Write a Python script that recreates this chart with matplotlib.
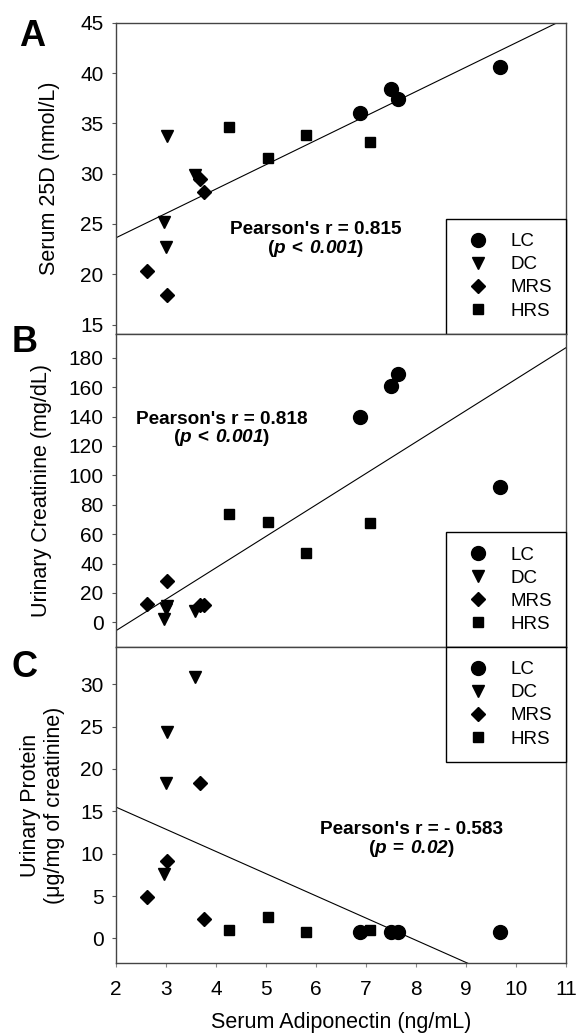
import numpy as np
import matplotlib.pyplot as plt

plt.rcParams['font.family'] = ['Liberation Sans', 'DejaVu Sans']
plt.rcParams['mathtext.fontset'] = 'custom'
plt.rcParams['mathtext.rm'] = 'Liberation Sans'
plt.rcParams['mathtext.bf'] = 'Liberation Sans:bold'
plt.rcParams['mathtext.it'] = 'Liberation Sans:italic'
plt.rcParams['mathtext.bfit'] = 'Liberation Sans:bold:italic'

# adiponectina serica (ng/mL) por grupo
grupos = ['LC', 'DC', 'MRS', 'HRS']
marcadores = {'LC': 'o', 'DC': 'v', 'MRS': 'D', 'HRS': 's'}
tamanos = {'LC': 10, 'DC': 8.5, 'MRS': 7, 'HRS': 7.5}
x_lc = [6.88, 7.50, 7.64, 9.69]
x_dc = [3.01, 2.95, 3.00, 3.58]
x_mrs = [2.62, 3.01, 3.68, 3.76]
x_hrs = [4.26, 5.05, 5.80, 7.08]

# panel A: 25D serica (nmol/L)
a_lc = [36.0, 38.4, 37.4, 40.6]
a_dc = [33.7, 25.2, 22.7, 29.9]
a_mrs = [20.3, 17.9, 29.5, 28.2]
a_hrs = [34.6, 31.6, 33.8, 33.1]

# panel B: creatinina urinaria (mg/dL)
b_lc = [139.7, 160.7, 169.1, 92.1]
b_dc = [11.0, 2.2, 9.0, 7.9]
b_mrs = [12.4, 28.2, 11.7, 11.7]
b_hrs = [74.0, 68.3, 47.0, 67.4]

# panel C: proteina urinaria (ug/mg de creatinina)
c_lc = [0.7, 0.7, 0.7, 0.7]
c_dc = [24.4, 7.6, 18.4, 30.8]
c_mrs = [4.9, 9.1, 18.4, 2.3]
c_hrs = [1.0, 2.5, 0.7, 1.0]

# rectas de regresion (pendiente, intercepto)
recta_a = (2.423, 18.78)
recta_b = (21.4, -48.5)
recta_c = (-2.62, 20.74)

xs = {'LC': x_lc, 'DC': x_dc, 'MRS': x_mrs, 'HRS': x_hrs}
paneles = [
    {'letra': 'A', 'pos_letra': (0.055, 0.965),
     'ys': {'LC': a_lc, 'DC': a_dc, 'MRS': a_mrs, 'HRS': a_hrs},
     'recta': recta_a, 'ylim': (14.1, 45), 'yticks': np.arange(15, 46, 5),
     'ylabel': 'Serum 25D (nmol/L)', 'lx': -0.124,
     'texto': ("Pearson's r = 0.815", r'$\mathbf{(}\mathbfit{p}\:\mathbf{<}\:\mathbfit{0.001}\mathbf{)}$'),
     'tx': 6.0, 'ty': 24.4, 'loc': 'lower right'},
    {'letra': 'B', 'pos_letra': (0.042, 0.669),
     'ys': {'LC': b_lc, 'DC': b_dc, 'MRS': b_mrs, 'HRS': b_hrs},
     'recta': recta_b, 'ylim': (-16.8, 196.5), 'yticks': np.arange(0, 181, 20),
     'ylabel': 'Urinary Creatinine (mg/dL)', 'lx': -0.142,
     'texto': ("Pearson's r = 0.818", r'$\mathbf{(}\mathbfit{p}\:\mathbf{<}\:\mathbfit{0.001}\mathbf{)}$'),
     'tx': 4.12, 'ty': 138, 'loc': 'lower right'},
    {'letra': 'C', 'pos_letra': (0.043, 0.356),
     'ys': {'LC': c_lc, 'DC': c_dc, 'MRS': c_mrs, 'HRS': c_hrs},
     'recta': recta_c, 'ylim': (-2.9, 34.4), 'yticks': np.arange(0, 31, 5),
     'ylabel': 'Urinary Protein\n(μg/mg of creatinine)', 'lx': -0.113,
     'texto': ("Pearson's r = - 0.583", r'$\mathbf{(}\mathbfit{p}\:\mathbf{=}\:\mathbfit{0.02}\mathbf{)}$'),
     'tx': 7.91, 'ty': 12.8, 'loc': 'upper right'},
]

fig = plt.figure(figsize=(5.78, 10.36), dpi=100)
izq, ancho = 0.2007, 0.7785
fondos = [0.678, 0.3755, 0.0705]
altos = [0.300, 0.3025, 0.305]

for i, p in enumerate(paneles):
    ax = fig.add_axes([izq, fondos[i], ancho, altos[i]])
    for g in grupos:
        ax.plot(xs[g], p['ys'][g], marcadores[g], color='k', ls='none',
                markersize=tamanos[g], label=g, clip_on=False)
    m, b = p['recta']
    xl = np.array([2, 11])
    ax.plot(xl, m * xl + b, color='k', lw=0.8)
    ax.set_xlim(2, 11)
    ax.set_ylim(*p['ylim'])
    ax.set_yticks(p['yticks'])
    ax.set_xticks(np.arange(2, 12, 1))
    ax.tick_params(axis='y', direction='out', length=3, color='#555555', pad=6, labelsize=15)
    ax.tick_params(axis='x', direction='out', length=3, color='#888888', pad=9, labelsize=15)
    if i < 2:
        ax.tick_params(axis='x', labelbottom=False, length=0)
    for s in ax.spines.values():
        s.set_color('#444444')
        s.set_linewidth(1)
    ax.set_ylabel(p['ylabel'], fontsize=15.5, linespacing=1.2)
    ax.yaxis.set_label_coords(p['lx'], 0.5)
    ax.text(p['tx'], p['ty'], p['texto'][0], ha='center', va='center',
            fontsize=13.7, fontweight='bold')
    ax.text(p['tx'], p['ty'] - (p['ylim'][1] - p['ylim'][0]) * 0.058, p['texto'][1],
            ha='center', va='center', fontsize=13.7)
    leg = ax.legend(loc=p['loc'], borderaxespad=0, fancybox=False, fontsize=13.5,
                    handlelength=2.0, handletextpad=0.7, borderpad=0.75,
                    labelspacing=0.32, framealpha=1)
    leg.get_frame().set_edgecolor('k')
    leg.get_frame().set_linewidth(1)
    fig.text(p['pos_letra'][0], p['pos_letra'][1], p['letra'], fontsize=26,
             fontweight='bold', ha='center', va='center')

fig.text(izq + ancho / 2, 0.0135, 'Serum Adiponectin (ng/mL)', ha='center',
         va='center', fontsize=15.5)

plt.savefig('out.png', dpi=100)
